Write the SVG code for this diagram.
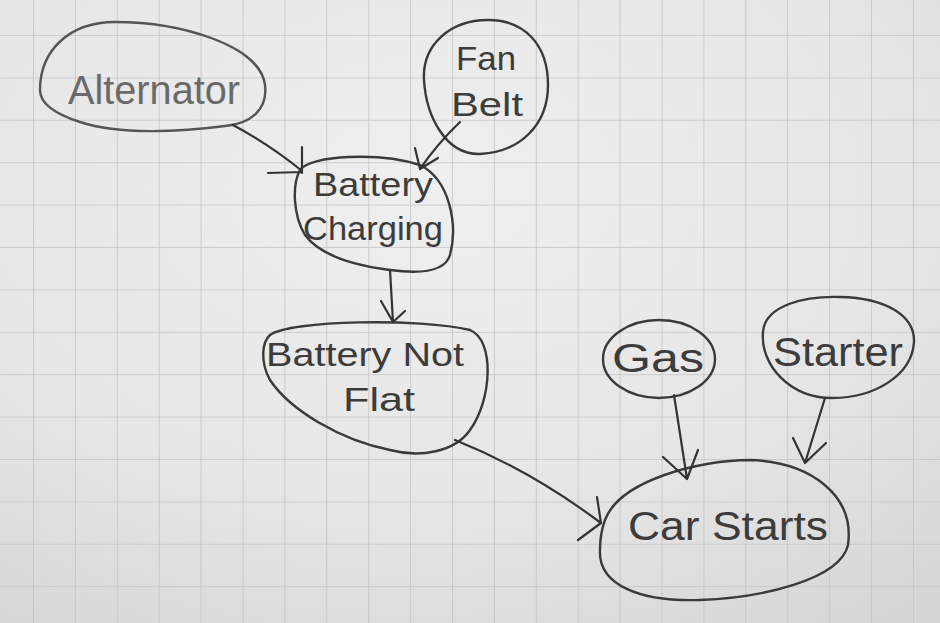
<svg xmlns="http://www.w3.org/2000/svg" width="940" height="623" viewBox="0 0 940 623">
<defs>
<radialGradient id="paper" cx="0.45" cy="0.3" r="0.85">
<stop offset="0" stop-color="#efefef"/>
<stop offset="0.6" stop-color="#e6e6e6"/>
<stop offset="1" stop-color="#d6d6d6"/>
</radialGradient>
<pattern id="grid" x="33" y="35" width="41.9" height="42.4" patternUnits="userSpaceOnUse">
<path d="M0,0 V42.4 M0,0 H41.9" fill="none" stroke="#c3c3c3" stroke-width="1.6"/>
</pattern>
</defs>
<style>
.node{fill:none;stroke:#3a3a3a;stroke-width:2.4;stroke-linejoin:round}
.edge{fill:none;stroke:#333;stroke-width:2.2;stroke-linecap:round}
.lbl{font-family:"Liberation Sans","DejaVu Sans",sans-serif;font-size:40px;fill:#3c3c3c}
.sm{font-size:34px}
.light{fill:#6a6a6a}
</style>
<rect width="940" height="623" fill="url(#paper)"/>
<rect width="940" height="623" fill="url(#grid)"/>

<g id="alternator">
<path class="node" style="stroke:#555" d="M 40,90 C 40,50 70,22 115,22 C 180,22 260,45 265,85 C 268,110 250,124 225,126 C 180,132 120,135 80,122 C 55,114 40,104 40,90 Z"/>
<text class="lbl light" x="68" y="104" textLength="172" lengthAdjust="spacingAndGlyphs">Alternator</text>
</g>
<g id="fanbelt">
<path class="node" d="M 424,80 C 422,45 450,20 488,20 C 525,20 548,45 548,85 C 548,125 520,152 480,154 C 445,155 426,115 424,80 Z"/>
<text class="lbl sm" x="456" y="70" textLength="60" lengthAdjust="spacingAndGlyphs">Fan</text>
<text class="lbl sm" x="451" y="116" textLength="72" lengthAdjust="spacingAndGlyphs">Belt</text>
</g>
<g id="batterycharging">
<path class="node" d="M 300,170 C 310,155 380,152 420,165 C 450,180 458,225 450,255 C 445,272 420,274 390,270 C 350,265 320,255 305,235 C 293,215 292,185 300,170 Z"/>
<text class="lbl sm" x="313" y="196" textLength="120" lengthAdjust="spacingAndGlyphs">Battery</text>
<text class="lbl sm" x="303" y="240" textLength="140" lengthAdjust="spacingAndGlyphs">Charging</text>
</g>
<g id="batterynotflat">
<path class="node" d="M 270,335 C 290,320 420,318 470,330 C 495,340 492,400 470,430 C 455,452 420,458 390,450 C 340,440 290,410 270,380 C 260,362 262,342 270,335 Z"/>
<text class="lbl sm" x="266" y="366" textLength="198" lengthAdjust="spacingAndGlyphs">Battery Not</text>
<text class="lbl sm" x="343" y="411" textLength="72" lengthAdjust="spacingAndGlyphs">Flat</text>
</g>
<g id="gas">
<ellipse class="node" cx="659" cy="359" rx="56" ry="39"/>
<text class="lbl" x="612" y="372" textLength="92" lengthAdjust="spacingAndGlyphs">Gas</text>
</g>
<g id="starter">
<path class="node" d="M 763,332 C 765,305 805,296 840,297 C 885,298 915,315 914,342 C 912,375 875,398 832,398 C 790,398 760,365 763,332 Z"/>
<text class="lbl" x="773" y="366" textLength="130" lengthAdjust="spacingAndGlyphs">Starter</text>
</g>
<g id="carstarts">
<path class="node" d="M 605,520 C 620,480 700,460 750,460 C 810,462 855,495 848,545 C 840,580 760,598 700,600 C 640,602 598,585 600,550 C 600,535 602,528 605,520 Z"/>
<text class="lbl" x="628" y="540" textLength="200" lengthAdjust="spacingAndGlyphs">Car Starts</text>
</g>

<g id="connectors">
<path class="edge" d="M 233,125 Q 270,145 302,171 M 302,147 L 302,173 M 268,173 L 302,172"/>
<path class="edge" d="M 460,122 Q 438,143 420,169 M 415,148 L 420,169 M 438,158 L 420,169"/>
<path class="edge" d="M 390,270 L 393,322 M 381,301 L 393,322 M 405,311 L 393,322"/>
<path class="edge" d="M 455,440 Q 530,470 601,523 M 597,497 L 601,523 M 578,540 L 601,523"/>
<path class="edge" d="M 674,395 L 687,479 M 663,457 L 687,479 M 698,450 L 687,479"/>
<path class="edge" d="M 825,398 L 805,463 M 793,438 L 805,463 M 826,443 L 805,463"/>
</g>
</svg>
